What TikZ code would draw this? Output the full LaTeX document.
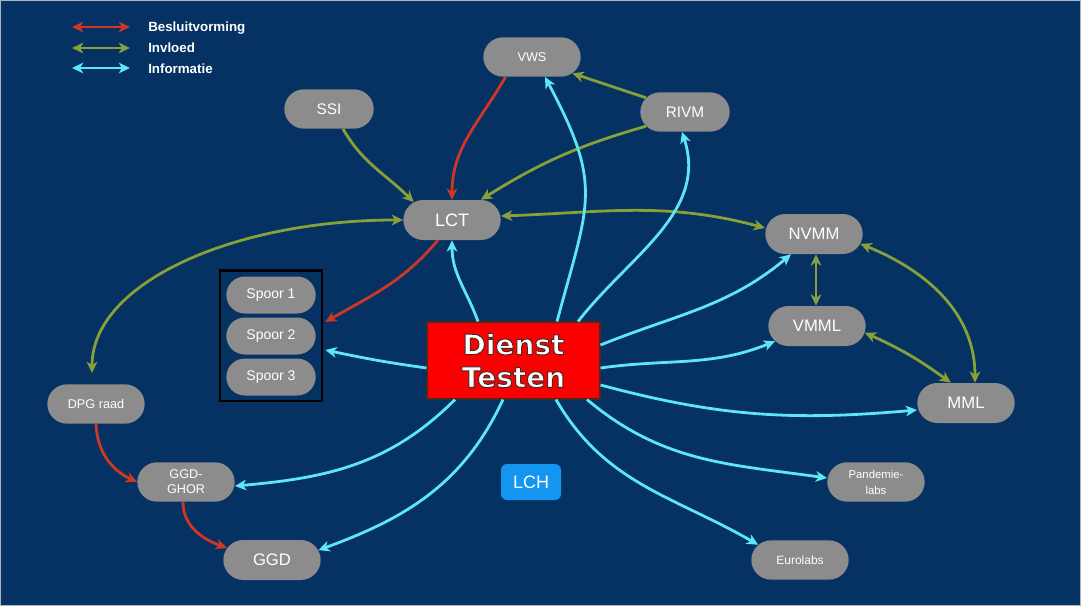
\documentclass[tikz,border=0pt]{standalone}
\usepackage{fontspec}
\setmainfont{Liberation Sans}
\newfontfamily\djv{DejaVu Sans}
\usetikzlibrary{shapes.misc,arrows.meta,calc}

\definecolor{bg}{RGB}{5,50,98}
\definecolor{pillc}{RGB}{140,140,140}
\definecolor{cred}{RGB}{205,55,35}
\definecolor{cgrn}{RGB}{135,160,55}
\definecolor{ccyn}{RGB}{95,230,245}
\definecolor{lchc}{RGB}{20,150,240}
\definecolor{olc}{RGB}{75,40,35}
\definecolor{dtred}{RGB}{250,0,0}
\definecolor{edgec}{RGB}{170,180,190}

% white letters with a thin dark outline (PDF text render mode 2)
\newcommand\otxt[1]{\special{pdf:literal direct 0.30 0.16 0.14 RG 0.75 w 2 Tr}#1\special{pdf:literal direct 0 Tr}}

\tikzset{
  pillbox/.style={rounded rectangle, fill=pillc, text=white, minimum width=75pt,
    minimum height=29.5pt, inner sep=1pt, align=center},
  tipk/.tip={Stealth[length=8.5pt,width=8pt,inset=2.5pt]},
  con/.style={line width=2.1pt, -tipk},
  bicon/.style={line width=2.1pt, tipk-tipk},
  dec/.style={draw=cred},
  infl/.style={draw=cgrn},
  inf/.style={draw=ccyn},
  legtxt/.style={anchor=west, text=white, font=\bfseries\fontsize{10}{12}\selectfont, inner sep=0pt},
}

\begin{document}
\begin{tikzpicture}[x=0.75pt,y=0.75pt]
\useasboundingbox[fill=bg] (0,0) rectangle (1081,-606);
\draw[edgec, line width=1.5pt] (0,0) rectangle (1081,-606);

% legend
\coordinate (l1a) at (72,-27); \coordinate (l1b) at (130,-27);
\coordinate (l2a) at (72,-48); \coordinate (l2b) at (130,-48);
\coordinate (l3a) at (72,-68); \coordinate (l3b) at (130,-68);
\draw[bicon,dec] (l1a) -- (l1b);
\draw[bicon,infl] (l2a) -- (l2b);
\draw[bicon,inf] (l3a) -- (l3b);
\node[legtxt] (lt1) at (148,-28) {Besluitvorming};
\node[legtxt] (lt2) at (148,-48) {Invloed};
\node[legtxt] (lt3) at (148,-69) {Informatie};

% nodes
\node[pillbox, font=\fontsize{9.5}{11}\selectfont] (vws) at (532,-57) {VWS};
\node[pillbox, minimum width=69pt, font=\fontsize{11.5}{13}\selectfont] (ssi) at (329,-109) {SSI};
\node[pillbox, minimum width=69pt, font=\fontsize{11.5}{13}\selectfont] (rivm) at (685,-112) {RIVM};
\node[pillbox, minimum height=30pt, font=\fontsize{13.5}{15}\selectfont] (lct) at (452,-220) {LCT};
\node[pillbox, minimum height=30pt, font=\fontsize{12.5}{14}\selectfont] (nvmm) at (814,-234) {NVMM};
\node[pillbox, minimum height=30pt, font=\fontsize{12.5}{14}\selectfont] (vmml) at (817,-326) {VMML};
\node[pillbox, minimum height=30pt, font=\fontsize{12.5}{14}\selectfont] (mml) at (966,-403) {MML};

\node[draw=black, line width=2pt, minimum width=76.5pt, minimum height=98pt, inner sep=0pt] (sbox) at (271,-335.5) {};
\node[pillbox, minimum width=69pt, minimum height=27.75pt, font=\fontsize{10.5}{12}\selectfont] (sp1) at (271,-295) {Spoor 1};
\node[pillbox, minimum width=69pt, minimum height=27.75pt, font=\fontsize{10.5}{12}\selectfont] (sp2) at (271,-336) {Spoor 2};
\node[pillbox, minimum width=69pt, minimum height=27.75pt, font=\fontsize{10.5}{12}\selectfont] (sp3) at (271,-377) {Spoor 3};

\node[rectangle, fill=dtred, draw=olc, line width=0.8pt, minimum width=129.75pt,
  minimum height=57.75pt, align=center, text=white,
  font=\djv\bfseries\fontsize{21}{24.5}\selectfont] (dt) at (513.5,-360.5) {\otxt{Dienst}\\\otxt{Testen}};

\node[pillbox, font=\fontsize{9.5}{11}\selectfont] (dpg) at (96,-404) {DPG raad};
\node[pillbox, font=\fontsize{9.5}{11.3}\selectfont] (ggdghor) at (186,-482) {GGD-\\GHOR};
\node[pillbox, minimum height=30pt, font=\fontsize{12.5}{14}\selectfont] (ggd) at (272,-560) {GGD};
\node[rectangle, rounded corners=4.5pt, fill=lchc, text=white, minimum width=45pt, minimum height=27pt,
  font=\fontsize{13.5}{15}\selectfont] (lch) at (531,-482) {LCH};
\node[pillbox, font=\fontsize{8.5}{12}\selectfont] (pand) at (876,-482) {Pandemie-\\labs};
\node[pillbox, font=\fontsize{9}{11}\selectfont] (euro) at (800,-560) {Eurolabs};

% influence (green)
\draw[con,infl] ($(ssi.south)+(14,0)$) to[out=-60,in=135] (lct.155);
\draw[con,infl] (rivm.200) to[bend right=8] (lct.35);
\draw[con,infl] (rivm.160) -- (vws.-22);
\draw[bicon,infl] ($(lct.east)+(0,4)$) to[out=2,in=165] ($(nvmm.west)+(0,6)$);
\draw[bicon,infl] (lct.west) .. controls +(-170,0) and +(0,90) .. ($(dpg.north)+(-4,11)$);
\draw[bicon,infl] ($(nvmm.south)+(2,0)$) -- ($(vmml.north)+(-1,0)$);
\draw[bicon,infl] (vmml.-8) to[bend left=6] (mml.127);
\draw[bicon,infl] (nvmm.-12) to[out=-22,in=90] ($(mml.north)+(9,0)$);

% decision (red)
\draw[con,dec] (vws.-143) to[out=-120,in=90] (lct.north);
\draw[con,dec] (lct.-125) to[out=-130,in=30] ($(sbox.east)+(2,13.5)$);
\draw[con,dec] (dpg.south) to[out=-88,in=155] (ggdghor.west);
\draw[con,dec] ($(ggdghor.south)+(-3,0)$) to[out=-90,in=160] (ggd.165);

% information (cyan)
\draw[con,inf] ($(dt.north)+(-35.5,0)$) to[out=110,in=-90] (lct.south);
\draw[con,inf] ($(dt.north)+(43.5,0)$) to[out=75,in=-62,looseness=1.3] ($(vws.south)+(13,0)$);
\draw[con,inf] ($(dt.north)+(64.5,0)$) to[out=52,in=-72] ($(rivm.south)+(-3,0)$);
\draw[con,inf] ($(dt.east)+(0,15.5)$) to[out=22,in=-140] ($(nvmm.south)+(-23,0)$);
\draw[con,inf] ($(dt.east)+(0,-7.5)$) to[out=8,in=-158] (vmml.200);
\draw[con,inf] ($(dt.east)+(0,-24.5)$) to[out=-15,in=185] ($(mml.west)+(0,-7)$);
\draw[con,inf] ($(dt.south)+(73.5,0)$) to[out=-40,in=172] ($(pand.west)+(0,4)$);
\draw[con,inf] ($(dt.south)+(42.5,0)$) to[out=-60,in=150] (euro.160);
\draw[con,inf] ($(dt.south)+(-10.5,0)$) to[out=-115,in=20] (ggd.12);
\draw[con,inf] ($(dt.south)+(-58.5,0)$) to[out=-135,in=5] ($(ggdghor.east)+(0,-4)$);
\draw[con,inf] ($(dt.west)+(0,-7.5)$) to[out=172,in=-12] ($(sbox.east)+(2,-14.5)$);
\end{tikzpicture}
\end{document}
